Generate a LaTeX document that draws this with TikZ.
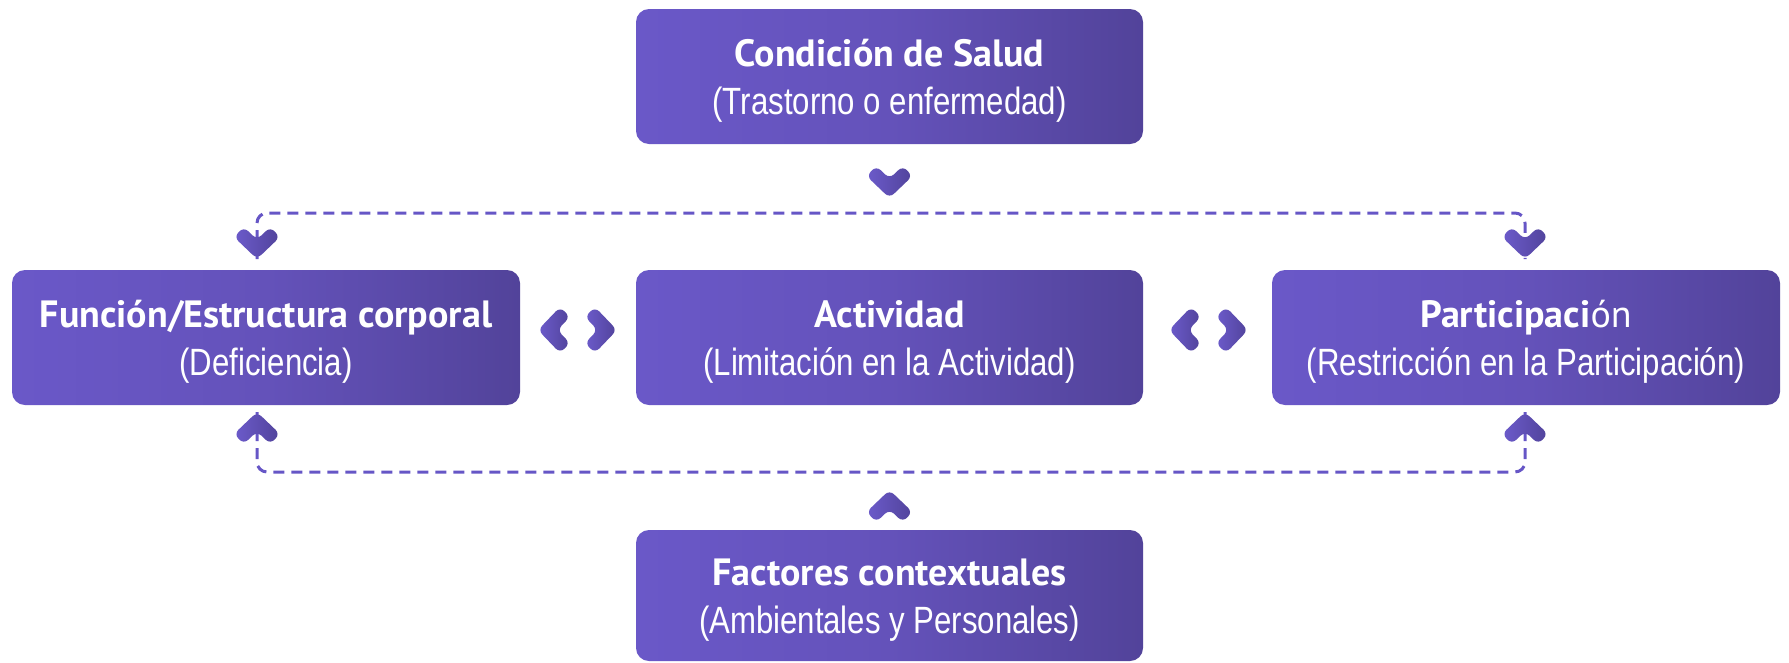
\documentclass[tikz,border=0pt]{standalone}
\usepackage{fontspec}
\setmainfont{PT Sans}
\newfontfamily\thinsans[FakeStretch=0.82]{Liberation Sans}
\usepackage{tikz}

\definecolor{boxL}{HTML}{6A58C8}
\definecolor{boxM}{HTML}{6452BA}
\definecolor{boxR}{HTML}{52439A}
\definecolor{chevL}{HTML}{6C5BCB}
\definecolor{chevR}{HTML}{51439B}
\definecolor{linkC}{HTML}{6656C6}

% titulo + subtitulo dentro de cada caja
\newcommand\boxtext[2]{\rule{0pt}{40pt}#1\\{\thinsans\mdseries\fontsize{38}{48}\selectfont #2\rule[-13pt]{0pt}{13pt}}}

\tikzset{
  box/.style={rounded corners=13pt, minimum width=507pt, minimum height=135pt, inner sep=0pt,
    left color=boxL, right color=boxR, middle color=boxM, text=white, align=center,
    font=\bfseries\fontsize{38}{48}\selectfont},
  link/.style={draw=linkC, line width=3pt, dash pattern=on 11pt off 7pt, rounded corners=10pt},
  chevshade/.style={left color=chevL, right color=chevR, rounded corners=6pt},
  % #1,#2: direccion de apertura del chevron (desde la punta)
  pics/chev/.style 2 args={code={
    \shade[chevshade] (0,0)
      -- ({22*(#1)+23*(#2)},{22*(#2)-23*(#1)})
      -- ({32.1*(#1)+13.3*(#2)},{32.1*(#2)-13.3*(#1)})
      -- ({19.4*(#1)},{19.4*(#2)})
      -- ({32.1*(#1)-13.3*(#2)},{32.1*(#2)+13.3*(#1)})
      -- ({22*(#1)-23*(#2)},{22*(#2)+23*(#1)})
      -- cycle;
  }}
}

\begin{document}
\begin{tikzpicture}[x=1pt,y=-1pt]
 \def\cx{889.5} % columna central
 \def\lx{266}   % columna izq
 \def\rx{1526}  % columna der
 \def\ry{337.5} % fila central
 \useasboundingbox (0,0) rectangle (1789,662);
% cajas
 \node[box] (salud) at (\cx,76.5) {\boxtext{Condición de Salud}{(Trastorno o enfermedad)}};
 \node[box, minimum width=508pt] (funcion) at (\lx,\ry) {\boxtext{Función/Estructura corporal}{(Deficiencia)}};
 \node[box] (actividad) at (\cx,\ry) {\boxtext{Actividad}{(Limitación en la Actividad)}};
 \node[box, minimum width=508pt] (participacion) at (\rx,\ry) {\boxtext{Participaci{\mdseries ón}}{(Restricción en la Participación)}};
 \node[box, minimum height=131pt] (factores) at (\cx,595.5) {\boxtext{Factores contextuales}{(Ambientales y Personales)}};
% puntas de las flechas
 \coordinate (fdn) at (257,259);
 \coordinate (pdn) at (1525,259);
 \coordinate (fup) at (257,412);
 \coordinate (pup) at (1525,412);
 \coordinate (sdn) at (\cx,198);
 \coordinate (cup) at (\cx,490);
% lineas punteadas
 \draw[link] (fdn) |- (\cx,213) -| (pdn);
 \draw[link] (fup) |- (\cx,472) -| (pup);
% chevrones
 \pic at (sdn) {chev={0}{-1}};
 \pic at (fdn) {chev={0}{-1}};
 \pic at (pdn) {chev={0}{-1}};
 \pic at (fup) {chev={0}{1}};
 \pic at (pup) {chev={0}{1}};
 \pic at (cup) {chev={0}{1}};
 \pic at (538,330) {chev={1}{0}};
 \pic at (617,330) {chev={-1}{0}};
 \pic at (1169,330) {chev={1}{0}};
 \pic at (1248,330) {chev={-1}{0}};
\end{tikzpicture}
\end{document}
